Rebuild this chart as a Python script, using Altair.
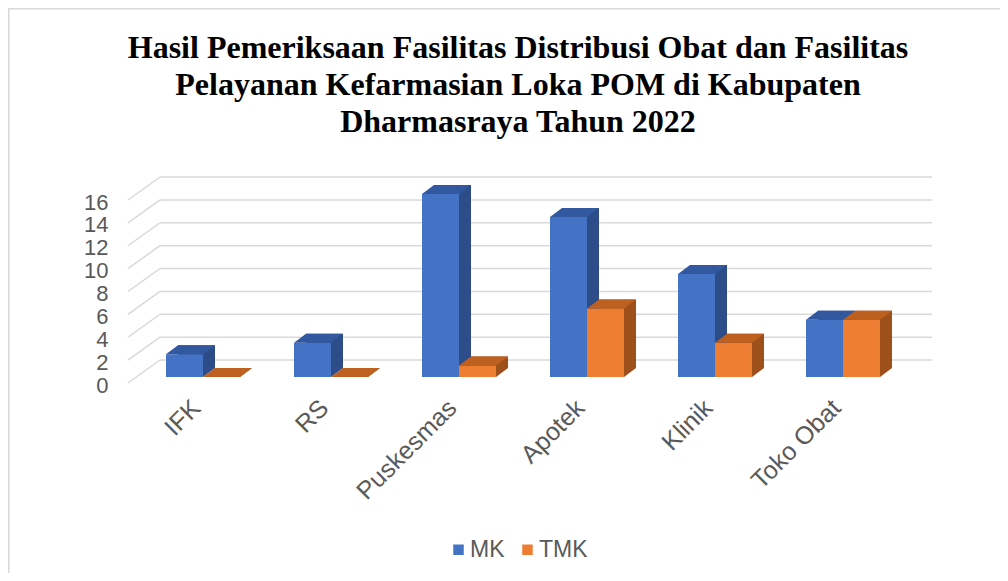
import altair as alt
import pandas as pd

categories = ["IFK", "RS", "Puskesmas", "Apotek", "Klinik", "Toko Obat"]
series_names = ["MK", "TMK"]
mk_values = [2, 3, 16, 14, 9, 5]
tmk_values = [0, 0, 1, 6, 3, 5]
y_ticks = [0, 2, 4, 6, 8, 10, 12, 14, 16]
title_lines = [
    "Hasil Pemeriksaan Fasilitas Distribusi Obat dan Fasilitas",
    "Pelayanan Kefarmasian Loka POM di Kabupaten",
    "Dharmasraya Tahun 2022",
]

bars = pd.DataFrame({
    "category": categories * 2,
    "series": ["MK"] * len(categories) + ["TMK"] * len(categories),
    "value": mk_values + tmk_values,
})
ticks = pd.DataFrame({"tick": y_ticks})
one = pd.DataFrame({"a": [0]})

W, H = 768, 183
BW, DX, DY = 37, 12, 9
BACK = 17
GRID = "#D9D9D9"
TXT = "#595959"
FONT = "Liberation Sans"

faces = {
    "MK": {"front": "#4472C4", "top": "#3258A0", "side": "#2C4D8A", "off": -BW / 2},
    "TMK": {"front": "#ED7D31", "top": "#BE6020", "side": "#9E501B", "off": BW / 2},
}

x_axis = alt.Axis(labelAngle=-45, labelFontSize=25, labelColor=TXT, labelFont=FONT,
                  ticks=False, domain=False, grid=False, labelPadding=18, labelOffset=-15,
                  title=None)
y_axis = alt.Axis(values=y_ticks, labelFontSize=22, labelColor=TXT, labelFont=FONT,
                  ticks=False, domain=False, grid=False, labelPadding=31, labelOffset=8,
                  title=None)
xs = alt.Scale(domain=categories, paddingInner=0, paddingOuter=0)
ys = alt.Scale(domain=[0, 16], nice=False)


def X():
    return alt.X("category:N", sort=categories, scale=xs, axis=x_axis)


def Y(field):
    return alt.Y(field, scale=ys, axis=y_axis)


border = alt.Chart(one).mark_rect(fill=None, stroke=GRID, strokeWidth=1.5).encode(
    x=alt.value(-130.2), x2=alt.value(1200), y=alt.value(-185.2), y2=alt.value(900)
)

title = alt.Chart(one).mark_text(
    text=title_lines, font="Liberation Serif", fontSize=32, fontWeight="bold",
    color="black", lineHeight=37, align="center", baseline="alphabetic"
).encode(x=alt.value(379), y=alt.value(-136))

grid_back = alt.Chart(ticks).mark_rule(color=GRID, strokeWidth=1.5, yOffset=-BACK).encode(
    y=Y("tick:Q"), x=alt.value(21), x2=alt.value(793)
)
grid_diag = alt.Chart(ticks).mark_rule(color=GRID, strokeWidth=1.5, yOffset=6, y2Offset=-BACK).encode(
    y=Y("tick:Q"), y2="tick:Q", x=alt.value(-11), x2=alt.value(21)
)

layers = [border, title, grid_back, grid_diag]

for s in series_names:
    f = faces[s]
    off = f["off"]
    base = alt.Chart(bars).transform_filter(alt.datum.series == s)
    side = base.mark_bar(width=BW, xOffset=off + DX, yOffset=-DY, y2Offset=-DY,
                         color=f["side"]).encode(x=X(), y=Y("value:Q"), y2=alt.datum(0))
    left = off - BW / 2
    right = off + BW / 2
    tri_path = f"M{right},0L{right},-{DY}L{right + DX},-{DY}Z"
    tri = base.transform_calculate(zero="0").mark_point(
        shape=tri_path, size=4, filled=True, opacity=1, color=f["side"], strokeWidth=0
    ).encode(x=X(), y=Y("zero:Q"))
    front = base.mark_bar(width=BW, xOffset=off).encode(
        x=X(), y=Y("value:Q"), y2=alt.datum(0),
        color=alt.Color("series:N", scale=alt.Scale(domain=series_names,
                                                    range=[faces["MK"]["front"], faces["TMK"]["front"]]),
                        legend=alt.Legend(orient="none", legendX=308, legendY=344, direction="horizontal",
                                          title=None, symbolType="square", symbolSize=110,
                                          symbolStrokeWidth=0, labelFontSize=23, labelColor=TXT,
                                          labelFont=FONT, columnPadding=11, labelOffset=0, padding=0))
    )
    top_path = f"M{left},0L{right},0L{right + DX},-{DY}L{left + DX},-{DY}Z"
    top = base.mark_point(shape=top_path, size=4, filled=True, opacity=1,
                          color=f["top"], strokeWidth=0).encode(x=X(), y=Y("value:Q"))
    layers += [side, tri, front, top]

chart = alt.layer(*layers).properties(
    width=W, height=H,
    autosize=alt.AutoSizeParams(type="none"),
    padding={"left": 131, "top": 186, "right": 93, "bottom": 196},
    background="white",
).configure_view(stroke=None)

chart.save("out.html", embed_options={"renderer": "svg", "actions": False})
